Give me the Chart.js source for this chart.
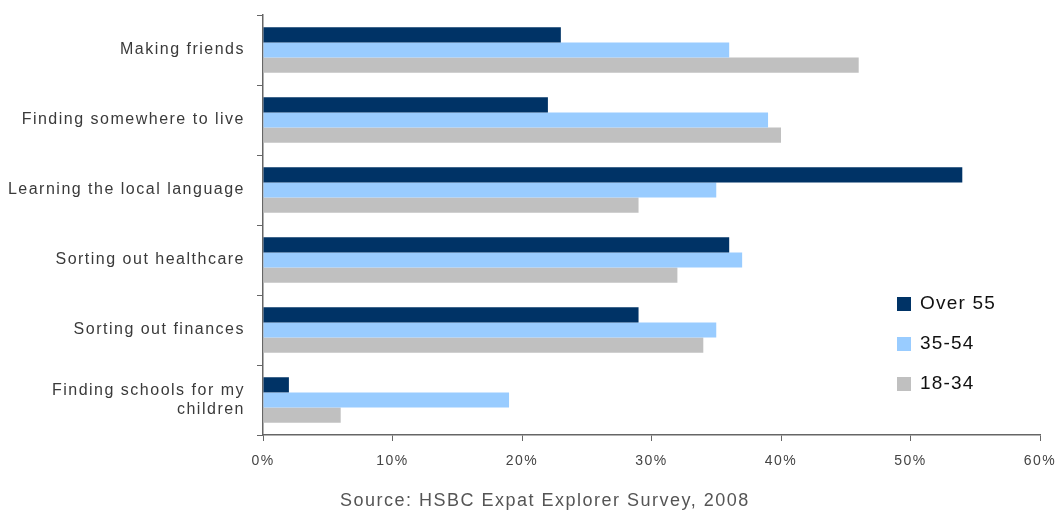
<!DOCTYPE html>
<html>
<head>
<meta charset="utf-8">
<script src="https://cdn.jsdelivr.net/npm/chart.js@4.4.1/dist/chart.umd.min.js"></script>
<style>
  body { margin: 0; background: #fff; }
  #wrap { position: relative; width: 1064px; height: 513px; }
  #source {
    position: absolute; left: 340px; top: 490px;
    font: 18px "Liberation Sans", Arial, sans-serif;
    letter-spacing: 1.5px; color: #555;
  }
  #legend { position: absolute; left: 897px; top: 292px; font: 19px "Liberation Sans", Arial, sans-serif; letter-spacing: 1.2px; color: #111; }
  #legend div { height: 40px; display: flex; align-items: flex-start; line-height: 22px; }
  #legend span.box { width: 14px; height: 14px; margin: 5px 9px 0 0; display: inline-block; }
</style>
</head>
<body>
<div id="wrap">
  <canvas id="expatChart" width="1064" height="513"></canvas>
  <div id="legend"></div>
  <div id="source">Source: HSBC Expat Explorer Survey, 2008</div>
</div>
<script>
const categories = [
  'Making friends',
  'Finding somewhere to live',
  'Learning the local language',
  'Sorting out healthcare',
  'Sorting out finances',
  ['Finding schools for my', 'children']
];
const over55 = [23, 22, 54, 36, 29, 2];
const age35to54 = [36, 39, 35, 37, 35, 19];
const age18to34 = [46, 40, 29, 32, 34, 6];
const seriesNames = ['Over 55', '35-54', '18-34'];
const seriesColors = ['#003366', '#99ccff', '#c0c0c0'];
const xTicks = [0, 10, 20, 30, 40, 50, 60];

// canvas text looks spread out, like the old office export
const spacing = {
  id: 'spacing',
  beforeUpdate(chart) { chart.ctx.letterSpacing = '1.5px'; },
  beforeDraw(chart) { chart.ctx.letterSpacing = '1.5px'; }
};

const ctx = document.getElementById('expatChart').getContext('2d');
const chart = new Chart(ctx, {
  type: 'bar',
  data: {
    labels: categories,
    datasets: [over55, age35to54, age18to34].map((d, i) => ({
      label: seriesNames[i],
      data: d,
      backgroundColor: seriesColors[i],
      borderWidth: 0,
      categoryPercentage: 0.65,
      barPercentage: 1.0
    }))
  },
  options: {
    indexAxis: 'y',
    responsive: false,
    animation: false,
    layout: { padding: { top: 15, right: 24, bottom: 33 } },
    plugins: {
      legend: { display: false },
      tooltip: { enabled: false }
    },
    scales: {
      x: {
        min: 0,
        max: 60,
        afterBuildTicks(scale) { scale.ticks = xTicks.map(v => ({ value: v })); },
        afterFit(scale) { scale.height = 45; scale.paddingLeft = 0; scale.paddingRight = 0; },
        border: { color: '#666', width: 1.5 },
        grid: { drawOnChartArea: false, tickLength: 6, color: '#666' },
        ticks: {
          padding: 12,
          color: '#444',
          font: { family: 'Liberation Sans', size: 14 },
          callback: v => v + '%'
        }
      },
      y: {
        afterFit(scale) { scale.width = 263; scale.paddingTop = 0; scale.paddingBottom = 0; },
        border: { color: '#666', width: 1.5 },
        grid: { drawOnChartArea: false, tickLength: 6, color: '#666', offset: true },
        ticks: {
          padding: 12,
          color: '#3a3a3a',
          font: { family: 'Liberation Sans', size: 16 }
        }
      }
    }
  },
  plugins: [spacing]
});

// legend sits inside the plot on the right
const legend = document.getElementById('legend');
chart.data.datasets.forEach(ds => {
  const row = document.createElement('div');
  const box = document.createElement('span');
  box.className = 'box';
  box.style.background = ds.backgroundColor;
  row.appendChild(box);
  row.appendChild(document.createTextNode(ds.label));
  legend.appendChild(row);
});
</script>
</body>
</html>
